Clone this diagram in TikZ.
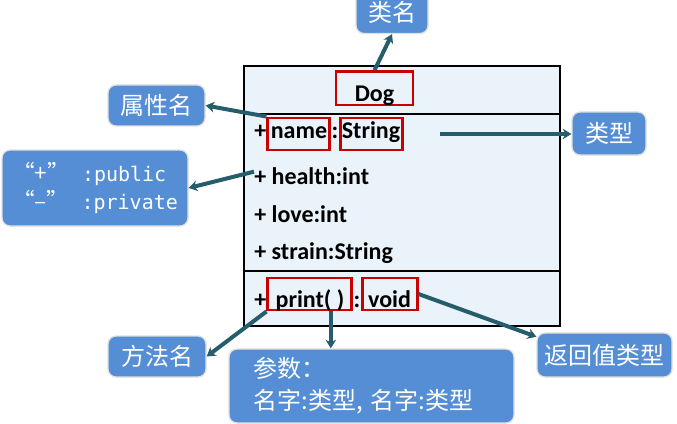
\documentclass[tikz,border=0pt]{standalone}
\usepackage{fontspec}
\usepackage{tikz}
\usetikzlibrary{
  arrows.meta,
  calc,
  positioning
}
\newfontfamily\cjkfont{Noto Sans CJK SC}
\newfontfamily\umlfont{Carlito}
\newfontfamily\codefont{DejaVu Sans Mono}
\definecolor{classfill}{HTML}{EAF2FA}
\definecolor{markred}{HTML}{C80000}
\definecolor{calloutblue}{HTML}{558ED5}
\definecolor{arrowteal}{HTML}{255D6B}
\tikzset{
  >=stealth,
  line cap=round,
  line join=round,
  member/.style={inner sep=0pt, font=\umlfont\bfseries\fontsize{18}{22}\selectfont},
  markbox/.style={member, draw=markred, line width=2.2pt, line join=miter},
  callout/.style={rectangle, rounded corners=6pt, fill=calloutblue, draw=black!12, line width=1pt, text=white, font=\cjkfont\fontsize{18}{24}\selectfont},
  callarrow/.style={-{Stealth[length=6.5pt,width=8pt]}, draw=arrowteal, line width=3pt, line cap=butt}
}

\begin{document}
\begin{tikzpicture}[x=0.75pt,y=-0.75pt]
	\useasboundingbox (0,0) rectangle (677,424);

	% Draw the class box and its compartments
	\draw[fill=classfill, line width=1.5pt] (244,66) rectangle (560,326);
	\draw[line width=1.5pt] (244,114) -- (560,114);
	\draw[line width=1.5pt] (244,271) -- (560,271);

	% class name
	\node[markbox, anchor=base, minimum width=57.75pt, text height=22.5pt, text depth=2.5pt] (dogBox) at (374.5,101.7) {Dog};

	% attributes
	\node[member, anchor=base west] (plusA) at (254,138) {+};
	\node[markbox, base right=0pt of plusA, minimum width=46.5pt, text height=15pt, text depth=9pt] (nameBox) {name};
	\node[member, base right=0pt of nameBox] (colonA) {:};
	\node[markbox, base right=0pt of colonA, minimum width=46.5pt, text height=15pt, text depth=9pt] (typeBox) {String};
	\node[member, anchor=base west] (healthAttr) at (254,184) {+ health:int};
	\node[member, anchor=base west] (loveAttr) at (254,222) {+ love:int};
	\node[member, anchor=base west] (strainAttr) at (254,259) {+ strain:String};

	% method
	\node[member, anchor=base west] (plusM) at (254,307) {+};
	\node[markbox, base right=0pt of plusM, minimum width=63pt, text height=21.75pt, text depth=2.25pt] (printBox) {print( )};
	\node[member, base right=0pt of printBox] (colonM) {:};
	\node[markbox, base right=0pt of colonM, minimum width=41.25pt, text height=21.75pt, text depth=2.25pt] (voidBox) {void};

	% Add the callouts
	\node[callout, minimum width=54pt, minimum height=31.5pt] (className) at (392,12.5) {类名};
	\node[callout, minimum width=72.75pt, minimum height=30.75pt] (attrName) at (156.5,105.5) {属性名};
	\node[callout, minimum width=139.5pt, minimum height=57pt, align=left, font=\fontsize{15}{21}\selectfont] (visibility) at (95,188)
		{{\cjkfont\fontsize{17}{21}\selectfont “+”}\hspace{9pt}{\codefont :public}\\{\cjkfont\fontsize{17}{21}\selectfont “–”}\hspace{9pt}{\codefont :private}};
	\node[callout, minimum width=55.5pt, minimum height=32.25pt] (typeName) at (609,133.5) {类型};
	\node[callout, minimum width=73.5pt, minimum height=30.75pt] (methodName) at (157,356.5) {方法名};
	\node[callout, minimum width=213.75pt, minimum height=55.5pt, text width=177pt, align=left] (paramList) at (371.5,386) {参数：\\名字:类型, 名字:类型};
	\node[callout, minimum width=101.25pt, minimum height=33pt] (returnType) at (604.5,355) {返回值类型};

	% arrows from the marked parts to the callouts
	\coordinate (typeTail) at ([xshift=27pt]typeBox.east);
	\coordinate (paramTail) at ($(printBox.south west)!0.74!(printBox.south east)$);
	\draw[callarrow] (dogBox.north) -- (className.south);
	\draw[callarrow] (nameBox.north west) -- (attrName.east);
	\draw[callarrow] ([yshift=3pt]healthAttr.west) -- (visibility.east);
	\draw[callarrow] (typeTail) -- (typeTail -| typeName.west);
	\draw[callarrow] (printBox.south west) -- (methodName.east);
	\draw[callarrow] (paramTail) -- (paramTail |- paramList.north);
	\draw[callarrow] (voidBox.east) -- (returnType.165);
\end{tikzpicture}
\end{document}
